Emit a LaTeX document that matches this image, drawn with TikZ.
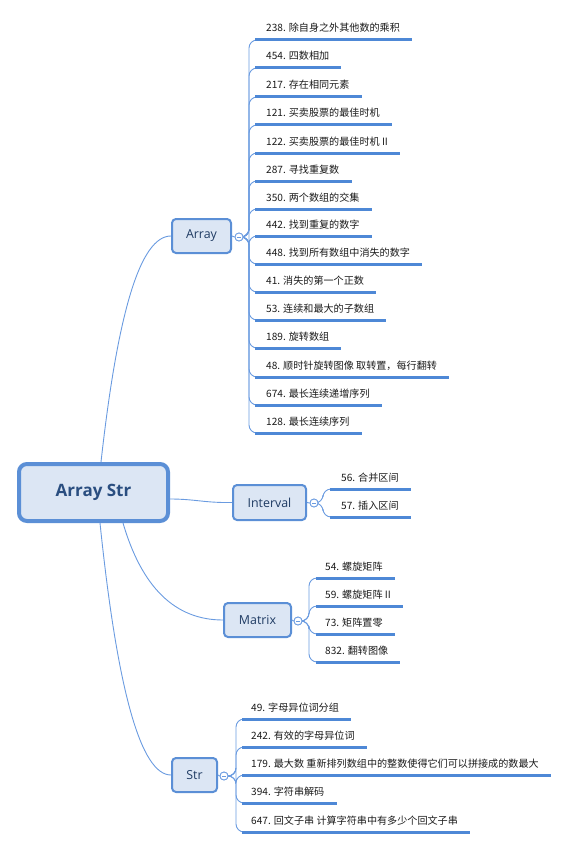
\documentclass[tikz,border=0pt]{standalone}
\usepackage{fontspec}
\setmainfont{Open Sans}
\newfontfamily\cjk{Noto Sans CJK SC}
\definecolor{bordc}{HTML}{5B8FD6}
\definecolor{fillc}{HTML}{DCE6F4}
\definecolor{txtc}{HTML}{1F3B63}
\definecolor{roottxt}{HTML}{2A4E80}
\definecolor{connc}{HTML}{6A9BE0}
\definecolor{ulc}{HTML}{4E88D6}
\definecolor{leaftxt}{HTML}{1A1A1A}
\tikzset{
  rootbox/.style={draw=bordc, line width=4pt, fill=fillc, rounded corners=8pt,
    minimum width=149pt, minimum height=57pt, inner sep=0pt,
    text=roottxt, font=\fontsize{17}{20}\selectfont\bfseries},
  topicbox/.style={draw=bordc, line width=2pt, fill=fillc, rounded corners=4pt,
    inner sep=0pt, minimum height=34pt, text=txtc,
    font=\fontsize{12.4}{15}\selectfont},
  foldc/.style={circle, draw=connc, line width=0.8pt, fill=white,
    minimum size=8pt, inner sep=0pt},
  conn/.style={draw=connc, line width=0.9pt},
  branch/.style={draw=connc, line width=0.9pt, rounded corners=8pt},
  uline/.style={draw=ulc, line width=3pt},
  leaf/.style={anchor=base west, inner sep=0pt, text=leaftxt,
    font=\cjk\fontsize{10.1}{12}\selectfont},
}
\newcommand{\foldmark}[1]{\draw[connc, line width=0.8pt] ([xshift=-2pt]#1.center) -- ([xshift=2pt]#1.center);}
\begin{document}
\begin{tikzpicture}[x=1pt,y=-1pt]
\useasboundingbox (0,0) rectangle (568,848);

% root and topics
\node[rootbox] (root) at (93.5,492.5) {Array Str};
\node[topicbox, minimum width=59pt] (arr) at (201.5,236) {Array};
\node[topicbox, minimum width=73pt, minimum height=35pt] (intv) at (269.5,502.5) {Interval};
\node[topicbox, minimum width=67pt] (mat) at (257.5,620) {Matrix};
\node[topicbox, minimum width=45pt] (str) at (194.5,775) {Str};

% root connectors
\draw[conn] ([xshift=84pt]root.north west) .. controls (117.7,312) and (140.3,236) .. (arr.west);
\draw[conn] (root.east |- 0,499) .. controls (195,499) and (205,503) .. (intv.west);
\draw[conn] ([xshift=106pt]root.south west) .. controls (141.7,587) and (174.7,620) .. (mat.west);
\draw[conn] ([xshift=83pt]root.south west) .. controls (117.3,690) and (140.7,775) .. (str.west);

% fold circles
\node[foldc] (ca) at (239,237) {};
\node[foldc] (ci) at (314,503) {};
\node[foldc] (cm) at (298,621) {};
\node[foldc] (cs) at (224,776) {};
\draw[conn] (arr.east) -- (ca.west);
\draw[conn] (intv.east) -- (ci.west);
\draw[conn] (mat.east) -- (cm.west);
\draw[conn] (str.east) -- (cs.west);

% Array leaves
\foreach \y/\t [count=\i] in {
  40/{238. 除自身之外其他数的乘积},
  68/{454. 四数相加},
  97/{217. 存在相同元素},
  125/{121. 买卖股票的最佳时机},
  153/{122. 买卖股票的最佳时机 II},
  181/{287. 寻找重复数},
  209/{350. 两个数组的交集},
  236/{442. 找到重复的数字},
  264/{448. 找到所有数组中消失的数字},
  292/{41. 消失的第一个正数},
  320/{53. 连续和最大的子数组},
  348/{189. 旋转数组},
  377/{48. 顺时针旋转图像 取转置，每行翻转},
  405/{674. 最长连续递增序列},
  433/{128. 最长连续序列}}{
  \node[leaf] (la\i) at (266,\y-8) {\t};
  \coordinate (ua\i) at (255,\y);
  \draw[branch] (ca.east) -- (249,237) -- (249,\y) -- (ua\i);
  \draw[uline] (ua\i) -- (ua\i -| la\i.east) -- ++(12,0);
}

% Interval leaves
\foreach \y/\t [count=\i] in {
  489/{56. 合并区间},
  517/{57. 插入区间}}{
  \node[leaf] (li\i) at (341,\y-8) {\t};
  \coordinate (ui\i) at (330,\y);
  \draw[branch] (ci.east) -- (323,503) -- (323,\y) -- (ui\i);
  \draw[uline] (ui\i) -- (ui\i -| li\i.east) -- ++(12,0);
}

% Matrix leaves
\foreach \y/\t [count=\i] in {
  578/{54. 螺旋矩阵},
  606/{59. 螺旋矩阵 II},
  634/{73. 矩阵置零},
  662/{832. 翻转图像}}{
  \node[leaf] (lm\i) at (325,\y-8) {\t};
  \coordinate (um\i) at (316,\y);
  \draw[branch] (cm.east) -- (309,621) -- (309,\y) -- (um\i);
  \draw[uline] (um\i) -- (um\i -| lm\i.east) -- ++(12,0);
}

% Str leaves
\foreach \y/\t [count=\i] in {
  719/{49. 字母异位词分组},
  747/{242. 有效的字母异位词},
  775/{179. 最大数 重新排列数组中的整数使得它们可以拼接成的数最大},
  803/{394. 字符串解码},
  832/{647. 回文子串 计算字符串中有多少个回文子串}}{
  \node[leaf] (ls\i) at (251,\y-8) {\t};
  \coordinate (us\i) at (242,\y);
  \draw[branch] (cs.east) -- (236,776) -- (236,\y) -- (us\i);
  \draw[uline] (us\i) -- (us\i -| ls\i.east) -- ++(12,0);
}

% redraw fold circles on top
\node[foldc] at (ca) {};
\node[foldc] at (ci) {};
\node[foldc] at (cm) {};
\node[foldc] at (cs) {};
\foldmark{ca}
\foldmark{ci}
\foldmark{cm}
\foldmark{cs}
\end{tikzpicture}
\end{document}
